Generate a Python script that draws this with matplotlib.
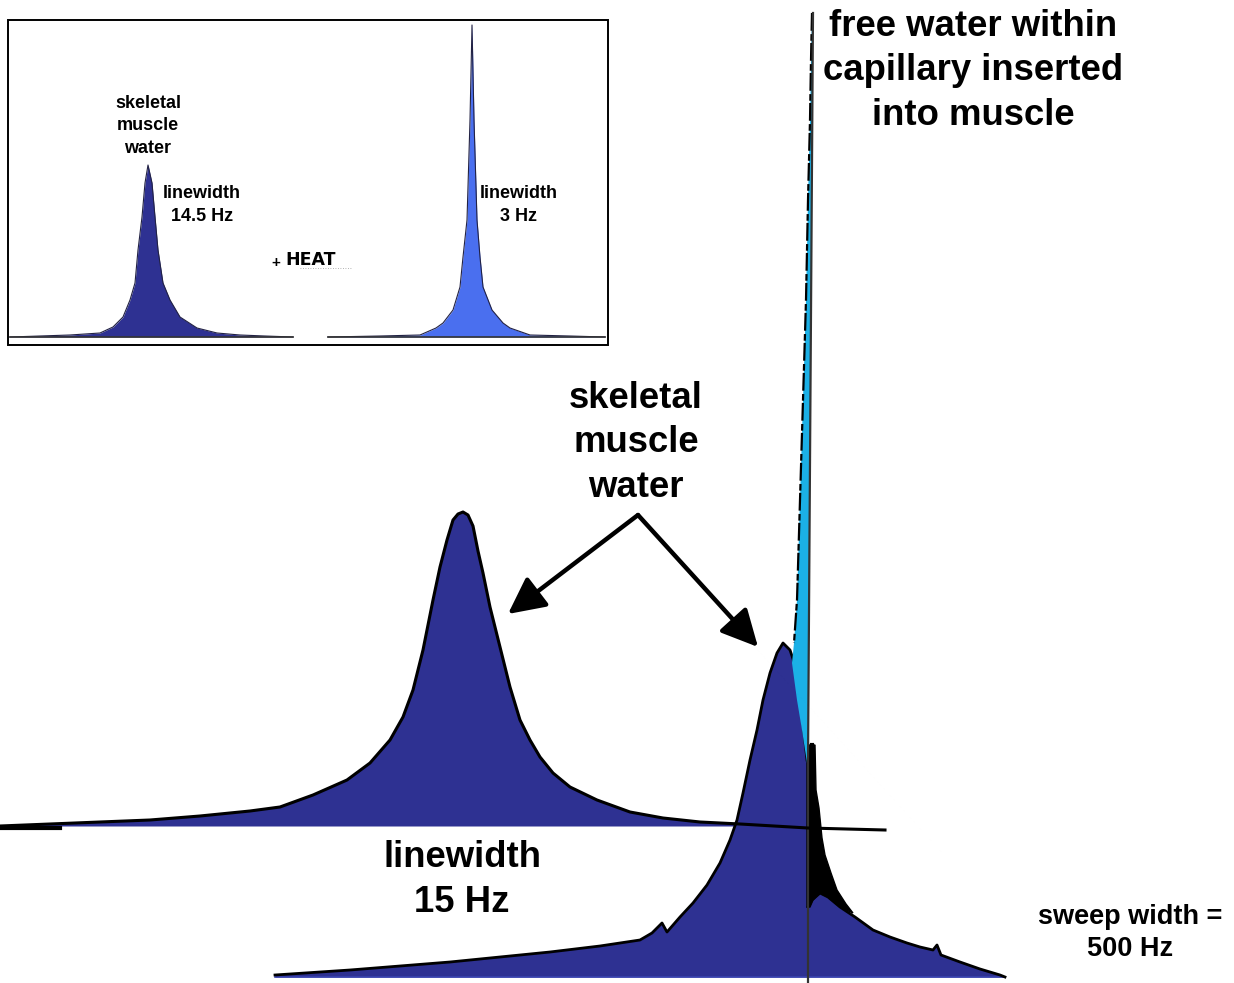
import matplotlib
matplotlib.use("Agg")
import matplotlib.pyplot as plt
from matplotlib.patches import Rectangle, FancyArrowPatch

# ---------------- data (pixel units) ----------------
# back (upper) spectrum: frequency position and height above its baseline
back_x = [0, 50, 100, 150, 200, 250, 280, 313, 347, 370, 390, 403, 413, 423, 433,
          440, 447, 453, 458, 463, 468, 473, 478, 483, 490, 500, 510, 520, 530,
          540, 553, 570, 597, 630, 663, 700, 740, 808, 885]
back_h = [0, 2, 4, 6, 10, 15, 19, 31, 46, 63, 86, 109, 136, 176, 226,
          259, 286, 306, 312, 314, 311, 300, 275, 253, 219, 179, 139, 106, 86,
          69, 53, 39, 26, 14, 8, 4, 2, -2, -4]

# front (lower) spectrum, left part (up to the capillary line)
front_x = [275, 350, 400, 450, 500, 550, 600, 640, 652, 658, 662, 667, 680, 693,
           707, 720, 730, 737, 743, 750, 757, 763, 770, 777, 783, 790, 795, 800, 807]
front_h = [2, 7, 11, 15, 20, 25, 31, 37, 44, 50, 54, 45, 60, 74,
           92, 114, 137, 157, 184, 217, 247, 277, 304, 324, 334, 327, 312, 280, 217]
# front spectrum, right tail
front_rx = [808, 812, 820, 828, 840, 855, 873, 890, 907, 920, 933, 937, 941, 960, 980, 1000, 1005]
front_rh = [70, 77, 84, 80, 70, 60, 47, 40, 34, 30, 27, 32, 22, 15, 8, 2, 0]

# dispersive (black) part next to the capillary line
disp_x = [807, 815, 816, 819, 822, 825, 831, 837, 846, 853, 840, 828, 820, 813, 810, 807]
disp_y = [745, 745, 790, 808, 838, 855, 873, 890, 904, 913, 907, 897, 893, 900, 907, 907]

# free-water spike (capillary), left edge x vs. y, right edge x vs. y
spike_y = [13, 60, 120, 200, 300, 400, 500, 600, 643, 663, 700, 730, 763]
spike_lx = [812, 811, 810, 808, 806, 803, 800, 797, 794, 792, 797, 802, 807]
spike_rx = [813, 813, 812, 812, 811, 811, 810, 810, 809, 809, 808, 808, 808]

# inset: before heating (skeletal muscle water) and after heating
in1_x = [10, 40, 70, 100, 113, 123, 130, 135, 138, 142, 145, 148, 152, 155, 158,
         163, 170, 180, 197, 217, 240, 265, 293]
in1_h = [0, 1, 2, 4, 10, 20, 37, 54, 87, 120, 154, 172, 154, 120, 87,
         54, 37, 20, 9, 4, 2, 1, 0]
in2_x = [328, 380, 420, 436, 443, 453, 460, 463, 467, 470, 472, 474, 477, 480,
         483, 492, 503, 510, 530, 570, 605]
in2_h = [0, 1, 2, 9, 14, 27, 50, 80, 117, 217, 312, 217, 117, 80,
         50, 27, 14, 9, 2, 1, 0]

# labels
lbl_free = "free water within\ncapillary inserted\ninto muscle"
lbl_skm = "skeletal\nmuscle\nwater"
lbl_lw_main = "linewidth\n15 Hz"
lbl_sweep = "sweep width =\n500 Hz"
lbl_lw_in1 = "linewidth\n14.5 Hz"
lbl_lw_in2 = "linewidth\n3 Hz"
lbl_heat = "HEAT"

# ---------------- layout ----------------
W, H = 1234, 983
BACK_BASE = 826
FRONT_BASE = 977
INSET_BASE = 337

NAVY = "#2E3192"
CYAN = "#1BB0E6"
INBLUE = "#4A6FEF"
FONT = "Liberation Sans"

fig = plt.figure(figsize=(W / 100, H / 100), dpi=100)
ax = fig.add_axes([0, 0, 1, 1])
ax.set_xlim(0, W)
ax.set_ylim(H, 0)
ax.axis("off")

# ---- front spectrum ----
fy = [FRONT_BASE - h for h in front_h]
fry = [FRONT_BASE - h for h in front_rh]
ax.fill_between(front_x, fy, FRONT_BASE, color=NAVY, lw=0, zorder=2)
ax.fill_between(front_rx, fry, FRONT_BASE, color=NAVY, lw=0, zorder=2)
ax.plot(front_x, fy, color="black", lw=2.0, zorder=3, solid_joinstyle="round")
ax.plot(front_rx, fry, color="black", lw=2.0, zorder=3, solid_joinstyle="round")
ax.plot([front_x[0], front_rx[-1]], [FRONT_BASE, FRONT_BASE], color="#3a44b0", lw=1.2, zorder=2)

# dispersive black region
ax.fill(disp_x, disp_y, color="black", lw=1.0, zorder=4)

# ---- spike ----
poly_x = spike_lx + spike_rx[::-1]
poly_y = spike_y + spike_y[::-1]
ax.fill(poly_x, poly_y, color=CYAN, lw=0, zorder=4)
ax.plot(spike_lx[:9], spike_y[:9], color="black", lw=1.6, zorder=5, ls=(0, (8, 1.5, 3, 1)))
ax.plot([spike_rx[0], spike_rx[-1], 808], [spike_y[0], spike_y[-1], H], color="#333333", lw=1.6, zorder=5)
ax.plot([812, 812], [745, 830], color="black", lw=3, zorder=5)

# ---- back spectrum ----
by = [BACK_BASE - h for h in back_h]
fill_x = [x for x in back_x if x <= 740]
fill_y = by[:len(fill_x)]
ax.fill_between(fill_x, fill_y, BACK_BASE, color=NAVY, lw=0, zorder=2)
ax.plot(back_x, by, color="black", lw=2.2, zorder=6, solid_joinstyle="round")
ax.plot([0, 60], [828, 828], color="black", lw=3, zorder=6)

# ---- arrows ----
apex = (638, 515)
for tip in [(508, 614), (758, 647)]:
    arr = FancyArrowPatch(apex, tip, arrowstyle="-|>,head_length=1.4,head_width=0.7",
                          mutation_scale=16, color="black", lw=3.2, zorder=7,
                          shrinkA=0, shrinkB=0)
    ax.add_patch(arr)

# ---- texts ----
big = dict(fontsize=26.3, fontweight="bold", family=FONT, ha="center", va="center",
           linespacing=1.36, zorder=8)
ax.text(973, 71, lbl_free, **big)
ax.text(636, 443, lbl_skm, **big)
ax.text(462, 880, lbl_lw_main, **big)
ax.text(1130, 933, lbl_sweep, fontsize=19.5, fontweight="bold", family=FONT,
        ha="center", va="center", linespacing=1.3, zorder=8)

# ---- inset ----
ax.add_patch(Rectangle((8, 20), 600, 325, fill=True, facecolor="white",
                       edgecolor="black", lw=1.4, zorder=1))
i1y = [INSET_BASE - h for h in in1_h]
i2y = [INSET_BASE - h for h in in2_h]
ax.fill_between(in1_x, i1y, INSET_BASE, color=NAVY, lw=0, zorder=2)
ax.plot(in1_x, i1y, color="#222244", lw=0.8, zorder=3)
ax.fill_between(in2_x, i2y, INSET_BASE, color=INBLUE, lw=0, zorder=2)
ax.plot(in2_x, i2y, color="#222244", lw=0.8, zorder=3)
ax.plot([10, 293], [INSET_BASE, INSET_BASE], color="#333333", lw=1.2, zorder=3)
ax.plot([328, 605], [INSET_BASE, INSET_BASE], color="#333333", lw=1.2, zorder=3)

small = dict(fontsize=13, fontweight="bold", family=FONT, ha="center", va="center",
             linespacing=1.4, zorder=8)
ax.text(148, 126, lbl_skm, **small)
ax.text(202, 205, lbl_lw_in1, **small)
ax.text(519, 205, lbl_lw_in2, **small)
ax.text(276, 263, "+", fontsize=11, fontweight="bold", family=FONT, ha="center", va="center")
ax.text(285, 260, lbl_heat, fontsize=12.5, fontweight="bold", family="DejaVu Sans",
        ha="left", va="center")
ax.plot([300, 352], [268, 268], color="#999999", lw=0.6, ls=(0, (1, 2)))

fig.savefig("out.png", dpi=100)
